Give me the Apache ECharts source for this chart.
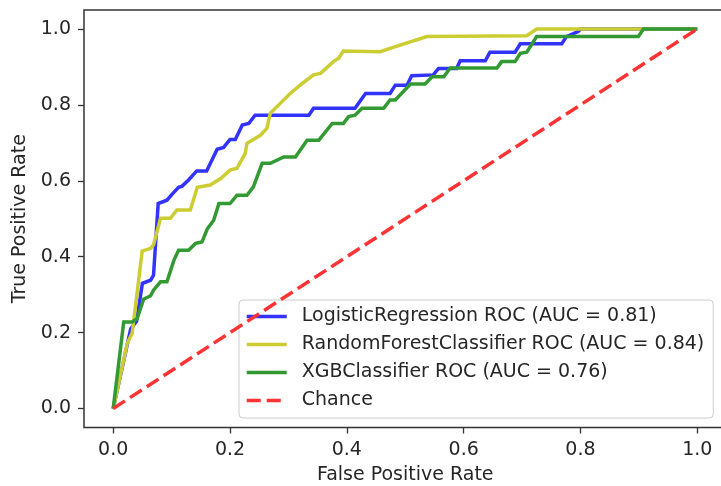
<!DOCTYPE html>
<html>
<head>
<meta charset="utf-8">
<script src="https://cdn.jsdelivr.net/npm/echarts@6/dist/echarts.min.js"></script>
<style>
html,body{margin:0;padding:0;background:#fff;}
#chart{width:721px;height:486px;}
</style>
</head>
<body>
<div id="chart"></div>
<script>
const xTicks = [0, 0.2, 0.4, 0.6, 0.8, 1.0];
const yTicks = [0, 0.2, 0.4, 0.6, 0.8, 1.0];
const seriesNames = [
  'LogisticRegression ROC (AUC = 0.81)',
  'RandomForestClassifier ROC (AUC = 0.84)',
  'XGBClassifier ROC (AUC = 0.76)',
  'Chance'
];
const logisticROC = [[0,0],[0.03,0.21],[0.04,0.23],[0.05,0.33],[0.064,0.338],[0.069,0.351],[0.077,0.54],[0.092,0.549],[0.101,0.565],[0.112,0.583],[0.118,0.586],[0.129,0.602],[0.143,0.626],[0.16,0.626],[0.178,0.683],[0.189,0.688],[0.2,0.709],[0.209,0.709],[0.221,0.747],[0.232,0.751],[0.243,0.773],[0.335,0.773],[0.343,0.791],[0.414,0.791],[0.432,0.83],[0.474,0.83],[0.483,0.852],[0.503,0.852],[0.511,0.877],[0.548,0.879],[0.557,0.896],[0.588,0.896],[0.594,0.916],[0.637,0.916],[0.645,0.939],[0.688,0.939],[0.697,0.961],[0.768,0.961],[0.776,0.98],[0.796,0.993],[0.80,1.0],[1.0,1.0]];
const forestROC = [[0,0],[0.024,0.171],[0.0325,0.199],[0.0496,0.415],[0.064,0.422],[0.069,0.431],[0.081,0.501],[0.098,0.501],[0.109,0.523],[0.132,0.523],[0.144,0.583],[0.166,0.589],[0.184,0.606],[0.2,0.628],[0.212,0.633],[0.226,0.672],[0.229,0.699],[0.252,0.72],[0.263,0.738],[0.269,0.778],[0.286,0.804],[0.303,0.83],[0.32,0.852],[0.343,0.879],[0.355,0.883],[0.377,0.914],[0.386,0.923],[0.394,0.942],[0.457,0.940],[0.474,0.949],[0.537,0.98],[0.708,0.982],[0.725,1.0],[1.0,1.0]];
const xgbROC = [[0,0],[0.018,0.228],[0.0325,0.228],[0.041,0.237],[0.052,0.288],[0.064,0.297],[0.069,0.312],[0.081,0.334],[0.092,0.334],[0.104,0.391],[0.112,0.417],[0.129,0.417],[0.141,0.435],[0.152,0.439],[0.161,0.473],[0.172,0.496],[0.181,0.54],[0.2,0.54],[0.212,0.562],[0.229,0.562],[0.24,0.584],[0.255,0.646],[0.269,0.646],[0.292,0.663],[0.312,0.663],[0.332,0.707],[0.352,0.707],[0.375,0.751],[0.394,0.751],[0.403,0.769],[0.414,0.773],[0.426,0.791],[0.463,0.791],[0.474,0.813],[0.483,0.813],[0.509,0.855],[0.534,0.855],[0.546,0.874],[0.566,0.874],[0.577,0.897],[0.657,0.897],[0.665,0.914],[0.688,0.914],[0.697,0.936],[0.708,0.939],[0.725,0.98],[0.899,0.98],[0.908,1.0],[1.0,1.0]];
const chanceLine = [[0,0],[1,1]];
const seriesColors = ['#3333ff', '#cccc33', '#339933', '#ff3333'];

const FONT = 'DejaVu Sans';
const TXT = '#262626';
const chart = echarts.init(document.getElementById('chart'), null, {renderer: 'canvas'});

function axisCommon(name, ticks, nameGap, labelMargin) {
  return {
    type: 'value',
    min: -0.05,
    max: 1.05,
    name: name,
    nameLocation: 'middle',
    nameGap: nameGap,
    nameTextStyle: {fontFamily: FONT, fontSize: 19, color: TXT},
    axisLine: {show: false, onZero: false},
    splitLine: {show: false},
    axisTick: {show: true, inside: false, length: 6, customValues: ticks, lineStyle: {color: '#333', width: 1.3}},
    axisLabel: {
      show: true, margin: labelMargin, customValues: ticks,
      fontFamily: FONT, fontSize: 19, color: TXT,
      formatter: v => Number(v).toFixed(1)
    }
  };
}

const datasets = [logisticROC, forestROC, xgbROC, chanceLine];
const series = datasets.map((d, i) => ({
  name: seriesNames[i],
  type: 'line',
  data: d,
  symbol: 'none',
  symbolSize: 0,
  showSymbol: false,
  animation: false,
  silent: true,
  z: i === 3 ? 5 : 2 + i,
  lineStyle: {
    color: seriesColors[i],
    width: 3.5,
    type: i === 3 ? [14, 6] : 'solid',
    cap: 'butt',
    join: 'miter'
  },
  itemStyle: {color: seriesColors[i]}
}));

chart.setOption({
  animation: false,
  backgroundColor: '#ffffff',
  grid: {
    show: true,
    left: 84, top: 10, width: 642.5, height: 417.5,
    borderColor: '#333', borderWidth: 1.5,
    backgroundColor: 'transparent',
    containLabel: false,
    outerBoundsMode: 'none'
  },
  xAxis: axisCommon('False Positive Rate', xTicks, 38, 13),
  yAxis: axisCommon('True Positive Rate', yTicks, 52, 13),
  legend: {
    show: true,
    orient: 'vertical',
    left: 239, top: 300,
    padding: [7, 9, 8, 6],
    itemWidth: 40,
    itemHeight: 19,
    itemGap: 9,
    selectedMode: false,
    itemStyle: {opacity: 0},
    lineStyle: {width: 3.5},
    backgroundColor: 'rgba(255,255,255,0.8)',
    borderColor: '#cccccc',
    borderWidth: 1,
    borderRadius: 4,
    textStyle: {fontFamily: FONT, fontSize: 19, color: TXT, lineHeight: 19, padding: [0, 0, 0, 10]},
    data: seriesNames
  },
  series: series
});
</script>
</body>
</html>
